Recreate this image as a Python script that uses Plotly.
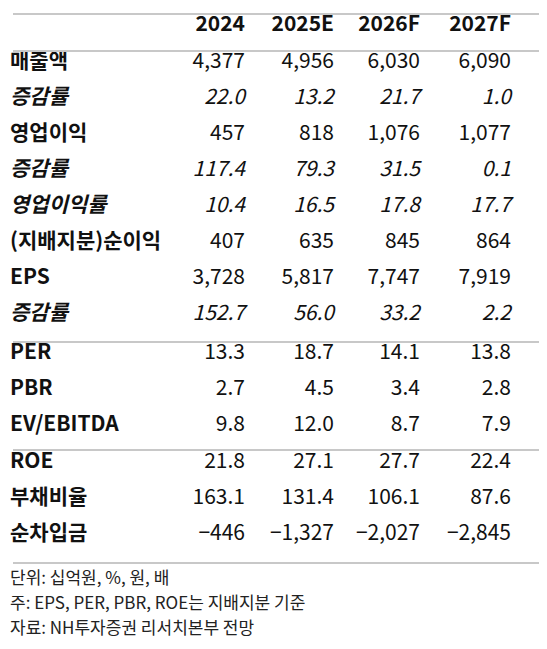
import plotly.graph_objects as go

years = ['2024', '2025E', '2026F', '2027F']
labels = ['매출액', '증감률', '영업이익', '증감률', '영업이익률', '(지배지분)순이익', 'EPS', '증감률',
          'PER', 'PBR', 'EV/EBITDA', 'ROE', '부채비율', '순차입금']
v2024 = ['4,377', '22.0', '457', '117.4', '10.4', '407', '3,728', '152.7', '13.3', '2.7', '9.8', '21.8', '163.1', '−446']
v2025 = ['4,956', '13.2', '818', '79.3', '16.5', '635', '5,817', '56.0', '18.7', '4.5', '12.0', '27.1', '131.4', '−1,327']
v2026 = ['6,030', '21.7', '1,076', '31.5', '17.8', '845', '7,747', '33.2', '14.1', '3.4', '8.7', '27.7', '106.1', '−2,027']
v2027 = ['6,090', '1.0', '1,077', '0.1', '17.7', '864', '7,919', '2.2', '13.8', '2.8', '7.9', '22.4', '87.6', '−2,845']
italic_rows = [1, 3, 4, 7]
notes = ['단위: 십억원, %, 원, 배', '주: EPS, PER, PBR, ROE는 지배지분 기준', '자료: NH투자증권 리서치본부 전망']

FONT = 'Noto Sans CJK KR'
col_x = [237, 326, 412, 503]
row_y = [55 + 36 * i for i in range(8)] + [346, 382, 418, 455, 491, 527]
values = [v2024, v2025, v2026, v2027]

fig = go.Figure()
# header
fig.add_trace(go.Scatter(x=col_x, y=[18] * 4, text=years, mode='text', textposition='middle left',
                         textfont=dict(family=FONT, size=21, color='#111', weight='bold')))
for i, lab in enumerate(labels):
    it = 'italic' if i in italic_rows else 'normal'
    fig.add_trace(go.Scatter(x=[2], y=[row_y[i]], text=[lab], mode='text', textposition='middle right',
                             textfont=dict(family=FONT, size=21, color='#111', weight='bold', style=it)))
    fig.add_trace(go.Scatter(x=col_x, y=[row_y[i]] * 4, text=[v[i] for v in values], mode='text',
                             textposition='middle left',
                             textfont=dict(family=FONT, size=21, color='#111', style=it)))
for j, n in enumerate(notes):
    fig.add_trace(go.Scatter(x=[2], y=[572 + 25 * j], text=[n], mode='text', textposition='middle right',
                             textfont=dict(family=FONT, size=17, color='#222')))

for yl in [6, 43, 334, 442, 555]:
    fig.add_shape(type='line', x0=5, x1=542, y0=yl, y1=yl, line=dict(color='#c8c8c8', width=2))

fig.update_layout(width=547, height=649, margin=dict(l=0, r=0, t=0, b=0), showlegend=False,
                  plot_bgcolor='white', paper_bgcolor='white',
                  xaxis=dict(range=[0, 547], visible=False, fixedrange=True),
                  yaxis=dict(range=[649, 0], visible=False, fixedrange=True))
fig.write_html('out.html')
